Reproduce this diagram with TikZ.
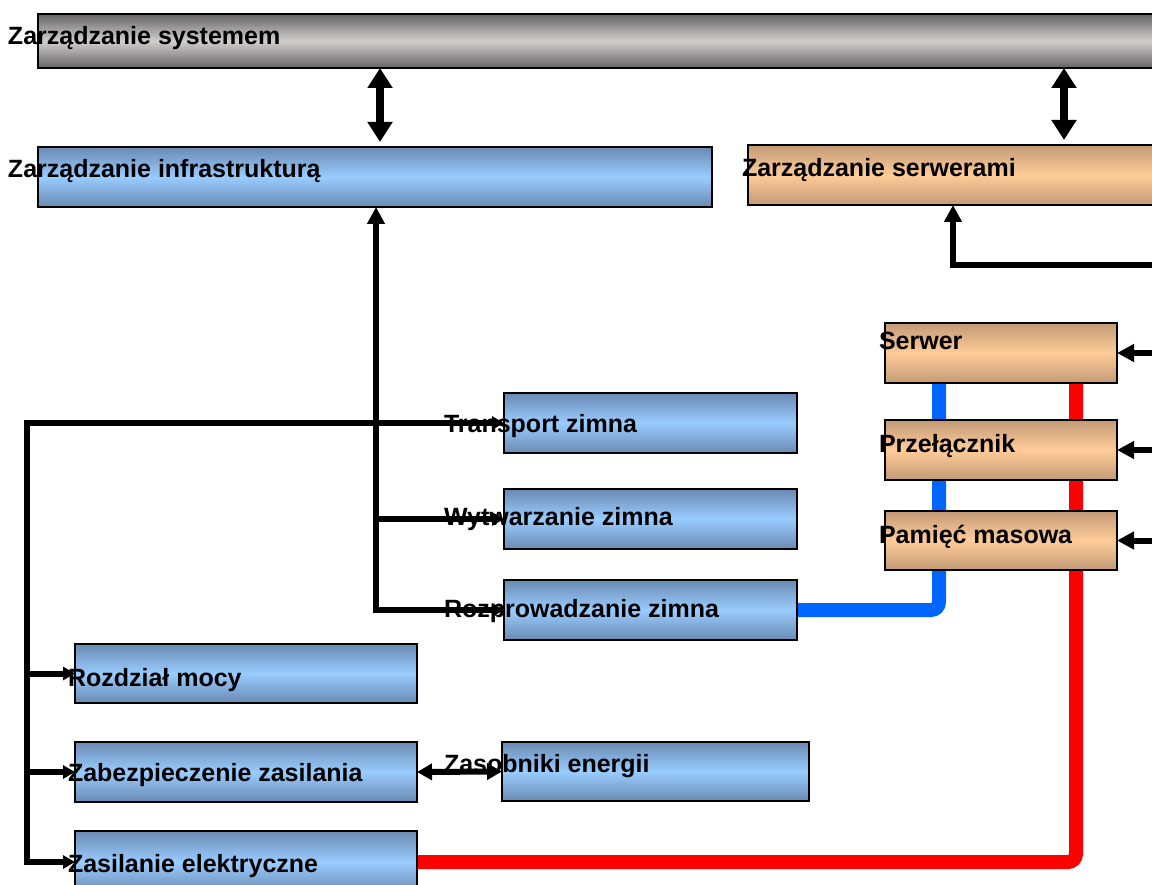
\documentclass[tikz,border=0pt]{standalone}
\usepackage{fontspec}
\setmainfont{Liberation Sans}
\usetikzlibrary{arrows.meta}
\pgfdeclarelayer{background}
\pgfsetlayers{background,main}
\definecolor{blueedge}{HTML}{6A8AB2}
\definecolor{bluemid}{HTML}{99CCFF}
\definecolor{tanedge}{HTML}{C29A76}
\definecolor{tanmid}{HTML}{FFCC99}
\definecolor{grayedge}{HTML}{646464}
\definecolor{graymid}{HTML}{D2CECE}
\definecolor{coolblue}{HTML}{0066FF}
\definecolor{hotred}{HTML}{FF0000}
\tikzset{
  BigTip/.tip={Triangle[width=24pt,length=20pt]},
  MidTip/.tip={Triangle[width=17pt,length=17pt]},
  SmallTip/.tip={Triangle[width=13pt,length=12pt]},
  PairTip/.tip={Triangle[width=16pt,length=15pt]},
  box/.style={draw=black, line width=1.6pt, inner sep=0pt, outer sep=0pt, anchor=north west},
  bluebox/.style={box, top color=blueedge, bottom color=blueedge, middle color=bluemid},
  tanbox/.style={box, top color=tanedge, bottom color=tanedge, middle color=tanmid},
  graybox/.style={box, top color=grayedge, bottom color=grayedge, middle color=graymid},
  lbl/.style={anchor=base west, inner sep=0pt, outer sep=0pt, font=\fontsize{25}{28}\selectfont\bfseries},
  conn/.style={line width=6pt, black},
  bigconn/.style={line width=8pt, black},
  pipe/.style={line width=14pt, rounded corners=8pt}
}
\begin{document}
\begin{tikzpicture}[x=1pt, y=-1pt]
\useasboundingbox (0,0) rectangle (1152,885);
\clip (0,0) rectangle (1152,885);
% boxes
\node[graybox, minimum width=1200pt, minimum height=54pt] (sys) at (38,14) {};
\node[bluebox, minimum width=674pt, minimum height=60pt] (infra) at (38,147) {};
\node[tanbox, minimum width=500pt, minimum height=60pt] (serw) at (748,145) {};
\node[tanbox, minimum width=232pt, minimum height=60pt] (serwer) at (885,323) {};
\node[tanbox, minimum width=232pt, minimum height=60pt] (przel) at (885,420) {};
\node[tanbox, minimum width=232pt, minimum height=59pt] (pam) at (885,511) {};
\node[bluebox, minimum width=293pt, minimum height=60pt] (transp) at (504,393) {};
\node[bluebox, minimum width=293pt, minimum height=60pt] (wytw) at (504,489) {};
\node[bluebox, minimum width=293pt, minimum height=60pt] (rozpr) at (504,580) {};
\node[bluebox, minimum width=342pt, minimum height=59pt] (rozdz) at (75,644) {};
\node[bluebox, minimum width=342pt, minimum height=60pt] (zabez) at (75,742) {};
\node[bluebox, minimum width=342pt, minimum height=62pt] (zasil) at (75,831) {};
\node[bluebox, minimum width=307pt, minimum height=59pt] (zasob) at (502,742) {};
% helper coordinates
\coordinate (xa) at (380,0);
\coordinate (xb) at (1064,0);
\coordinate (xc) at (376,0);
\coordinate (xd) at (953,0);
\coordinate (xbl) at (939,0);
\coordinate (xr) at (1076,0);
\coordinate (lc) at (27,862);
\coordinate (r0) at (1170,265);
\coordinate (re) at (1170,0);
% coloured pipes behind the boxes
\begin{pgfonlayer}{background}
\draw[pipe, coolblue] (rozpr.east) -| (serwer.center -| xbl);
\draw[pipe, hotred] (zasil.east) -| (serwer.center -| xr);
\end{pgfonlayer}
% connectors
\draw[bigconn, BigTip-BigTip, shorten >=5pt] (sys.south -| xa) -- (infra.north -| xa);
\draw[bigconn, BigTip-BigTip, shorten >=5pt] (sys.south -| xb) -- (serw.north -| xb);
\draw[conn, MidTip-SmallTip] (infra.south -| xc) |- (rozpr.west);
\draw[conn, -SmallTip] (wytw.west -| xc) -- (wytw.west);
\draw[conn, SmallTip-SmallTip] (transp.west) -| (lc) -- (zasil.west);
\draw[conn, -SmallTip] (rozdz.west -| lc) -- (rozdz.west);
\draw[conn, -SmallTip] (zabez.west -| lc) -- (zabez.west);
\draw[conn, PairTip-PairTip] (zabez.east) -- (zasob.west);
\draw[conn, MidTip-] (serw.south -| xd) |- (r0);
\draw[conn, -MidTip] (serwer.east -| re) -- (serwer.east);
\draw[conn, -MidTip] (przel.east -| re) -- (przel.east);
\draw[conn, -MidTip] (pam.east -| re) -- (pam.east);
% labels
\node[lbl] (tsys) at (8,45) {Zarządzanie systemem};
\node[lbl] (tinfra) at (8,178) {Zarządzanie infrastrukturą};
\node[lbl] (tserw) at (742,177) {Zarządzanie serwerami};
\node[lbl] (tserwer) at (879,350) {Serwer};
\node[lbl] (tprzel) at (879,452) {Przełącznik};
\node[lbl] (tpam) at (879,543) {Pamięć masowa};
\node[lbl] (ttransp) at (444,432) {Transport zimna};
\node[lbl] (twytw) at (444,525) {Wytwarzanie zimna};
\node[lbl] (trozpr) at (444,617) {Rozprowadzanie zimna};
\node[lbl] (trozdz) at (68,686) {Rozdział mocy};
\node[lbl] (tzabez) at (68,781) {Zabezpieczenie zasilania};
\node[lbl] (tzasil) at (68,872) {Zasilanie elektryczne};
\node[lbl] (tzasob) at (444,772) {Zasobniki energii};
\end{tikzpicture}
\end{document}
